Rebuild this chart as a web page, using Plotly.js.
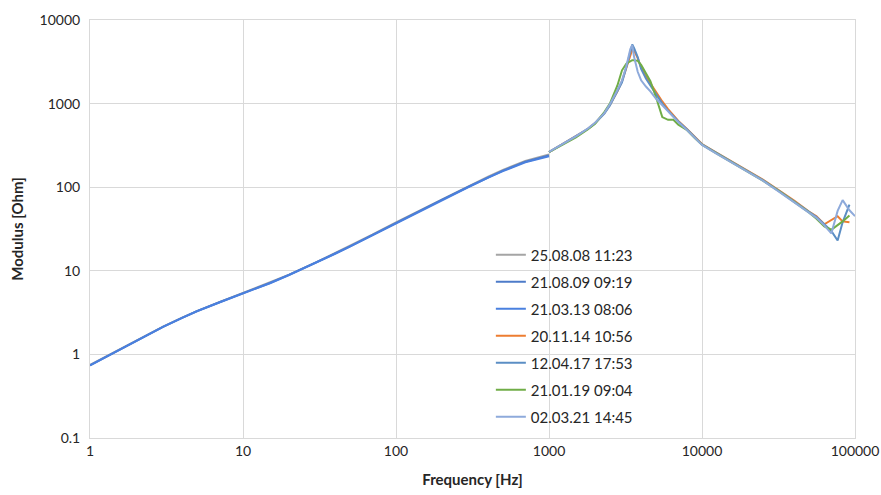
<!DOCTYPE html>
<html>
<head>
<meta charset="utf-8">
<script src="https://cdn.plot.ly/plotly-3.0.1.min.js"></script>
<style>html,body{margin:0;padding:0;background:#fff;}#chart{width:881px;height:495px;}</style>
</head>
<body>
<div id="chart"></div>
<script>
// Frequency grids [Hz]
var freqLow = [1, 1.5, 2, 3, 4, 5, 7, 10, 15, 20, 30, 40, 50, 70, 100, 150, 200, 300, 400, 500, 700, 1000];
var freqHigh = [1000, 1200, 1500, 1800, 2000, 2300, 2500, 2800, 3000, 3200, 3400, 3500, 3600, 3800, 4000, 4300, 4600, 5000, 5500, 6000, 6500, 7000, 8000, 9000, 10000, 12500, 16000, 20000, 25000, 32000, 40000, 50000, 56000, 63000, 70000, 77000, 83000, 92000, 100000];

// Series names (legend)
var seriesNames = ["25.08.08 11:23", "21.08.09 09:19", "21.03.13 08:06", "20.11.14 10:56", "12.04.17 17:53", "21.01.19 09:04", "02.03.21 14:45"];

// Modulus [Ohm] values
var mod_250808 = [0.75, 1.1, 1.45, 2.15, 2.75, 3.3, 4.2, 5.4, 7.2, 9.0, 12.6, 16.2, 19.8, 27, 38, 55, 72, 104, 134, 161, 206, 246];
var mod_210809 = [0.74, 1.09, 1.44, 2.14, 2.74, 3.3, 4.2, 5.38, 7.15, 8.95, 12.5, 16.1, 19.6, 26.8, 37.6, 54.4, 71, 102, 132, 158, 202, 240];
var mod_210313 = [0.74, 1.09, 1.44, 2.13, 2.73, 3.28, 4.18, 5.36, 7.1, 8.9, 12.4, 16.0, 19.5, 26.6, 37.3, 54, 70, 101, 130, 156, 198, 234];
var mod_201114 = [262, 320, 400, 500, 585, 770, 960, 1400, 1850, 2700, 3900, 4400, 4300, 3500, 2700, 2100, 1750, 1380, 1060, 860, 720, 620, 495, 395, 328, 257, 197, 156, 123, 91, 69, 51, 45, 36, 40, 45, 39, 38, null];
var mod_120417 = [262, 320, 400, 500, 580, 760, 950, 1400, 1800, 2700, 4300, 5100, 4600, 3600, 2600, 2000, 1650, 1300, 1000, 820, 700, 610, 490, 390, 325, 255, 195, 155, 122, 90, 68, 51, 44, 36, 30, 23, 38, 62, null];
var mod_210119 = [262, 318, 395, 495, 575, 790, 1000, 1650, 2500, 3000, 3250, 3300, 3300, 3250, 2900, 2300, 1850, 1200, 690, 640, 640, 560, 480, 385, 322, 252, 193, 153, 120, 89, 67, 50, 42, 34, 31, 35, 39, 46, null];
var mod_020321 = [265, 322, 405, 505, 590, 770, 980, 1450, 1900, 2800, 4500, 5000, 3600, 2400, 1900, 1600, 1400, 1150, 950, 800, 690, 600, 480, 385, 320, 250, 192, 152, 120, 88, 66, 50, 43, 35, 28, 52, 70, 53, 45];

var colors = ["#a5a5a5", "#4d7bc9", "#4a80df", "#ed7d31", "#5b8ec4", "#70ad47", "#8eaadb"];

var xTickVals = [1, 10, 100, 1000, 10000, 100000];
var xTickText = ["1", "10", "100", "1000", "10000", "100000"];
var yTickVals = [0.1, 1, 10, 100, 1000, 10000];
var yTickText = ["0.1", "1", "10", "100", "1000", "10000"];

var xs = [freqLow, freqLow, freqLow, freqHigh, freqHigh, freqHigh, freqHigh];
var ys = [mod_250808, mod_210809, mod_210313, mod_201114, mod_120417, mod_210119, mod_020321];

var traces = seriesNames.map(function (n, i) {
  return {
    type: "scatter", mode: "lines", name: n,
    x: xs[i], y: ys[i],
    legendgroup: "g" + i,
    line: {color: colors[i], width: 2},
    connectgaps: false
  };
});

var txtColor = "#262626";
var layout = {
  width: 881, height: 495,
  margin: {l: 90, r: 26, t: 20, b: 57},
  paper_bgcolor: "#ffffff", plot_bgcolor: "#ffffff",
  showlegend: true,
  font: {family: "Lato, sans-serif", color: txtColor},
  xaxis: {
    type: "log", range: [0, 5],
    tickvals: xTickVals, ticktext: xTickText,
    tickfont: {family: "Lato", size: 14, color: txtColor},
    showgrid: true, gridcolor: "#d9d9d9", gridwidth: 1,
    showline: true, linecolor: "#d9d9d9", linewidth: 1, mirror: true,
    zeroline: false, ticks: "",
    automargin: false,
    title: {text: "Frequency [Hz]", font: {family: "Lato", size: 15, color: txtColor, weight: "bold"}, standoff: 16}
  },
  yaxis: {
    type: "log", range: [-1, 4],
    tickvals: yTickVals, ticktext: yTickText,
    tickfont: {family: "Lato", size: 14, color: txtColor},
    showgrid: true, gridcolor: "#d9d9d9", gridwidth: 1,
    showline: true, linecolor: "#d9d9d9", linewidth: 1, mirror: true,
    zeroline: false, ticks: "outside", ticklen: 6, tickcolor: "rgba(0,0,0,0)",
    automargin: false,
    title: {text: "Modulus [Ohm]", font: {family: "Lato", size: 15, color: txtColor, weight: "bold"}, standoff: 12}
  },
  legend: {
    x: 0.524, y: 0.477, xanchor: "left", yanchor: "top",
    bgcolor: "rgba(0,0,0,0)", borderwidth: 0,
    font: {family: "Lato", size: 15, color: txtColor},
    tracegroupgap: 4.5, itemwidth: 30, traceorder: "grouped"
  }
};

Plotly.newPlot("chart", traces, layout, {displayModeBar: false, staticPlot: true});
</script>
</body>
</html>
